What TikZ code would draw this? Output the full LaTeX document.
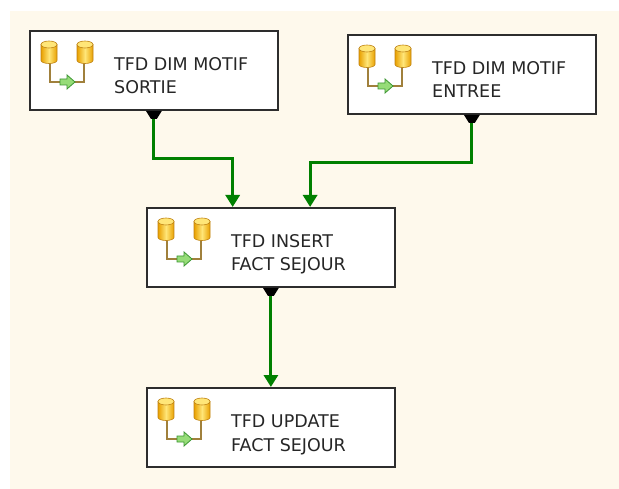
\documentclass[tikz,border=0pt]{standalone}
\usepackage{fontspec}
\setmainfont{DejaVu Sans}
\usepackage{tikz}
\usetikzlibrary{calc,arrows.meta}
\definecolor{canvas}{RGB}{254,249,236}
\definecolor{flowgreen}{RGB}{0,128,0}
\definecolor{boxedge}{RGB}{45,45,45}
\definecolor{cylgold}{RGB}{232,160,0}
\definecolor{cyllight}{RGB}{255,230,120}
\definecolor{cyledge}{RGB}{190,130,20}
\definecolor{pipebrown}{RGB}{160,128,60}
\definecolor{arrowlight}{RGB}{150,220,120}
\definecolor{arrowdark}{RGB}{60,150,50}

\begin{document}
\begin{tikzpicture}[x=1pt, y=-1pt,
  task/.style={draw=boxedge, line width=1.8pt, fill=white, minimum width=248pt,
    minimum height=79pt, anchor=north west, inner sep=0pt},
  tasktext/.style={anchor=base west, align=left, inner sep=0pt,
    font=\fontsize{17.5}{23.3}\selectfont, text=black!85},
  flow/.style={draw=flowgreen, line width=3pt,
    -{Triangle[width=14pt,length=12pt]}},
  pics/dbicon/.style={code={
    \draw[pipebrown, line width=2.4pt] (21,30) -- (21,52) -- (55,52) -- (55,30);
    \foreach \cx in {20,56}{
      \shade[left color=cylgold, right color=cylgold, middle color=cyllight, draw=cyledge, line width=0.6pt]
        (\cx-8,14.5) -- (\cx-8,30.5) arc[start angle=180, end angle=0, x radius=8, y radius=3] -- (\cx+8,14.5) -- cycle;
      \draw[fill=cyllight, draw=cyledge, line width=0.6pt] (\cx,14.5) ellipse[x radius=8, y radius=3.5];
    }
    \draw[fill=arrowlight, draw=arrowdark, line width=0.8pt]
      (31,49) -- (38,49) -- (38,45) -- (46,52) -- (38,59) -- (38,55) -- (31,55) -- cycle;
  }},
  pics/srctab/.style={code={
    \fill[black] (-8,0) -- (8,0) -- (3,8) -- (-3,8) -- cycle;
  }}]
\useasboundingbox (0,0) rectangle (619,489);
\fill[canvas] (10,11) rectangle (619,489);

% tasks
\node[task] (sortie) at (29,30) {};
\node[task] (entree) at (347,34) {};
\node[task] (insert) at (146,207) {};
\node[task] (update) at (146,387) {};

\foreach \t/\txt in {sortie/{TFD DIM MOTIF\\SORTIE}, entree/{TFD DIM MOTIF\\ENTREE},
  insert/{TFD INSERT\\FACT SEJOUR}, update/{TFD UPDATE\\FACT SEJOUR}}{
  \pic at (\t.north west) {dbicon};
  \node[tasktext] (\t-label) at ($(\t.north west)+(85,64)$) {\txt};
}

% precedence links
\coordinate (in1) at ($(insert.north west)!0.347!(insert.north east)$);
\coordinate (in2) at ($(insert.north west)!0.657!(insert.north east)$);

\draw[flow] (sortie.south) |- ($(sortie.south)!0.5!(in1)$) -| (in1);
\draw[flow] (entree.south) |- ($(entree.south)!0.52!(in2)$) -| (in2);
\draw[flow] (insert.south) -- (update.north);

\pic at (sortie.south) {srctab};
\pic at (entree.south) {srctab};
\pic at (insert.south) {srctab};
\end{tikzpicture}
\end{document}
